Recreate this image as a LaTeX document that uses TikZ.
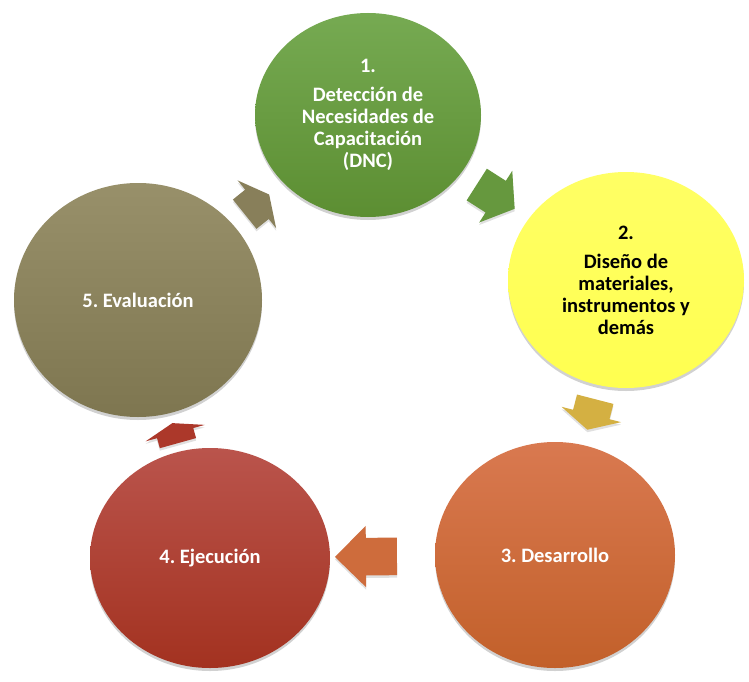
\documentclass[tikz,border=0pt]{standalone}
\usepackage{fontspec}
\setmainfont{Carlito}
\usetikzlibrary{shapes.geometric,calc,shadows}
\frenchspacing
\definecolor{gtop}{RGB}{118,170,82}
\definecolor{gbot}{RGB}{92,142,50}
\definecolor{ytop}{RGB}{255,255,100}
\definecolor{ybot}{RGB}{255,255,80}
\definecolor{otop}{RGB}{217,121,80}
\definecolor{obot}{RGB}{194,96,42}
\definecolor{rtop}{RGB}{186,84,76}
\definecolor{rbot}{RGB}{163,50,32}
\definecolor{vtop}{RGB}{152,144,106}
\definecolor{vbot}{RGB}{126,118,80}
\definecolor{ga}{RGB}{102,152,62}
\definecolor{ya}{RGB}{212,176,66}
\definecolor{oa}{RGB}{206,108,60}
\definecolor{ra}{RGB}{172,56,42}
\definecolor{va}{RGB}{136,127,90}
\tikzset{
  stage/.style={ellipse, inner sep=0pt, align=center,
    font=\fontsize{20.5}{22}\selectfont\bfseries, text=white,
    drop shadow={shadow xshift=0pt, shadow yshift=-3pt, opacity=0.18, fill=black}},
  arrowfill/.style={fill=#1},
}
\newcommand\cycarrow[5]{%
  \coordinate (tmp) at ($(#1.center)!#3!(#2.center)$);
  \pgfmathanglebetweenpoints{\pgfpointanchor{#1}{center}}{\pgfpointanchor{#2}{center}}%
  \edef\cyang{\pgfmathresult}%
  \begin{scope}[shift={(tmp)}, yshift=-2.5pt, rotate=\cyang]
    \fill[black, opacity=0.12] ({-0.5*#4pt},18.8pt) -- (0pt,18.8pt) -- (0pt,30.7pt) -- ({0.5*#4pt},0pt)
      -- (0pt,-30.7pt) -- (0pt,-18.8pt) -- ({-0.5*#4pt},-18.8pt) -- cycle;
  \end{scope}
  \begin{scope}[shift={(tmp)}, rotate=\cyang]
    \fill[arrowfill=#5] ({-0.5*#4pt},18.8pt) -- (0pt,18.8pt) -- (0pt,30.7pt) -- ({0.5*#4pt},0pt)
      -- (0pt,-30.7pt) -- (0pt,-18.8pt) -- ({-0.5*#4pt},-18.8pt) -- cycle;
  \end{scope}}
\begin{document}
\begin{tikzpicture}[x=1pt,y=-1pt]
\useasboundingbox[fill=white] (0,0) rectangle (749,682);
\node[stage, minimum width=226pt, minimum height=204pt, top color=gtop, bottom color=gbot] (g) at (368,115)
  {1.\\[7pt]Detección de\\Necesidades de\\Capacitación\\(DNC)};
\node[stage, minimum width=236pt, minimum height=216pt, top color=ytop, bottom color=ybot, text=black] (y) at (626,280)
  {2.\\[7pt]Diseño de\\materiales,\\instrumentos y\\demás};
\node[stage, minimum width=240pt, minimum height=226pt, top color=otop, bottom color=obot] (o) at (555,555)
  {3. Desarrollo};
\node[stage, minimum width=240pt, minimum height=220pt, top color=rtop, bottom color=rbot] (r) at (210,558)
  {4. Ejecución};
\node[stage, minimum width=248pt, minimum height=234pt, top color=vtop, bottom color=vbot] (v) at (138,300)
  {5. Evaluación};
\cycarrow{g}{y}{0.495}{45}{ga}
\cycarrow{y}{o}{0.489}{31.5}{ya}
\cycarrow{o}{r}{0.548}{62}{oa}
\cycarrow{r}{v}{0.484}{20.8}{ra}
\cycarrow{v}{g}{0.517}{31.4}{va}
\end{tikzpicture}
\end{document}
